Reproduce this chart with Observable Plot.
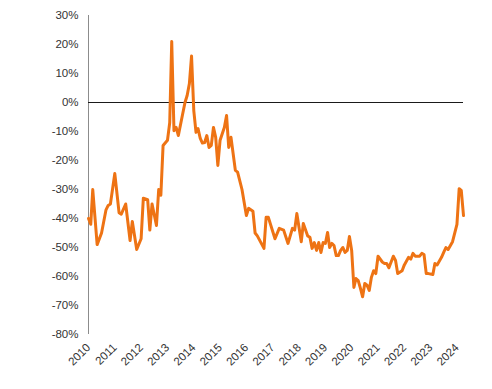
<!DOCTYPE html>
<html>
<head>
<meta charset="utf-8">
<script src="https://cdn.jsdelivr.net/npm/d3@7"></script>
<script src="https://cdn.jsdelivr.net/npm/@observablehq/plot@0.6"></script>
<style>
  html, body { margin: 0; padding: 0; background: #fff; }
  #chart { width: 492px; height: 389px; }
</style>
</head>
<body>
<div id="chart"></div>
<script>
const months = [
  "2010-01","2010-02","2010-03","2010-05","2010-07","2010-09","2010-10","2010-11",
  "2011-01","2011-03","2011-04","2011-06","2011-08","2011-09","2011-11",
  "2012-01","2012-02","2012-04","2012-05","2012-06","2012-08","2012-09","2012-10","2012-11",
  "2013-01","2013-02","2013-03","2013-04","2013-05","2013-06","2013-08","2013-09","2013-10","2013-11","2013-12",
  "2014-01","2014-02","2014-03","2014-04","2014-05","2014-06","2014-07","2014-08","2014-09","2014-10","2014-11","2014-12",
  "2015-01","2015-03","2015-04","2015-05","2015-06","2015-08","2015-09","2015-11",
  "2016-01","2016-02","2016-04","2016-05","2016-06","2016-09","2016-10","2016-11",
  "2017-02","2017-04","2017-06","2017-08","2017-10","2017-11","2017-12",
  "2018-02","2018-03","2018-05","2018-06","2018-07","2018-08","2018-09","2018-10","2018-11","2018-12",
  "2019-01","2019-02","2019-03","2019-04","2019-05","2019-06","2019-07","2019-08","2019-09","2019-10","2019-11","2019-12",
  "2020-01","2020-02","2020-03","2020-04","2020-05","2020-06","2020-07","2020-08","2020-09","2020-10","2020-11","2020-12",
  "2021-01","2021-03","2021-04","2021-05","2021-06","2021-08","2021-09","2021-10","2021-12",
  "2022-01","2022-03","2022-04","2022-05","2022-06","2022-08","2022-09","2022-10","2022-11","2022-12",
  "2023-02","2023-03","2023-04","2023-06","2023-07","2023-08","2023-09","2023-11",
  "2024-01","2024-02","2024-03","2024-04"
];
const values = [
  -40,-42,-30,-49,-45,-37,-35.5,-35,
  -24.5,-38,-38.5,-35,-47.6,-41,-50.7,
  -47,-33,-33.5,-44,-35,-42.4,-30,-32,-14.8,
  -13,-7,21,-9.7,-8.6,-11.4,-3.8,0,2.4,6.5,16,
  -2.8,-10.3,-9,-12.4,-14,-13.8,-11.4,-15.5,-14.8,-8.6,-12,-21.7,
  -13,-8.6,-4.5,-15.5,-12,-23.4,-24,-30,
  -39,-36.5,-37.5,-45,-46,-50.3,-39.6,-39.6,
  -47,-43.4,-44,-48.6,-43.4,-44,-38.3,
  -48,-41.7,-46,-46.5,-50.3,-48.3,-51,-48.3,-51.7,-48.3,
  -48.6,-44.8,-50,-48.6,-49.3,-52.8,-52.8,-51,-50,-51.7,-51,-46.2,
  -51,-63.8,-60.7,-61.4,-64,-67,-62.4,-63,-64.8,-60.3,-58,-59,
  -53,-55,-55.5,-55.5,-57,-53,-54.5,-59,-58,
  -56,-53.4,-54,-52,-53,-53,-52,-52.4,-59,-59,
  -59.3,-55.5,-56,-53.4,-51.7,-50,-50.7,-48,
  -42,-29.7,-30.3,-39
];
const yTicks = [30, 20, 10, 0, -10, -20, -30, -40, -50, -60, -70, -80];
const yearLabels = ["2010","2011","2012","2013","2014","2015","2016","2017","2018","2019","2020","2021","2022","2023","2024"];
const xStart = "2010-01";
const xEnd = "2024-04";

const parse = d3.utcParse("%Y-%m");
const data = months.map((m, i) => ({date: parse(m), value: values[i]}));
const yearDates = yearLabels.map(y => d3.utcParse("%Y")(y));

const chart = Plot.plot({
  width: 492,
  height: 389,
  marginLeft: 88,
  marginRight: 29,
  marginTop: 15,
  marginBottom: 55,
  style: {fontFamily: "Arial, 'Liberation Sans', sans-serif", fontSize: "11px", color: "#333", background: "#fff"},
  x: {type: "utc", domain: [parse(xStart), parse(xEnd)]},
  y: {domain: [-80, 30]},
  marks: [
    Plot.axisY({ticks: yTicks, tickFormat: d => d + "%", tickSize: 0, tickPadding: 10, label: null, fontSize: 11.5}),
    Plot.ruleX([parse(xStart)], {y1: -80, y2: 30, stroke: "#8c8c8c", strokeWidth: 1}),
    Plot.ruleY([0], {stroke: "#1a1a1a", strokeWidth: 1}),
    Plot.lineY(data, {x: "date", y: "value", stroke: "#EE7314", strokeWidth: 3, strokeLinejoin: "round"}),
    Plot.axisX({ticks: yearDates, tickFormat: d => d3.utcFormat("%Y")(d), tickRotate: -45, tickSize: 0, tickPadding: 11, label: null, fontSize: 11.5})
  ]
});
document.getElementById("chart").appendChild(chart);
</script>
</body>
</html>
